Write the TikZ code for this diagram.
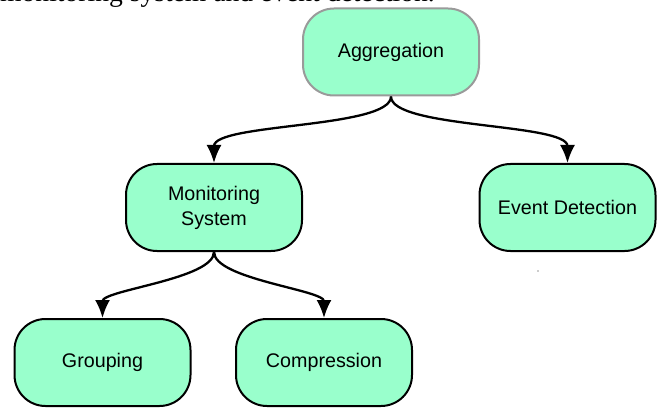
\documentclass[tikz,border=0pt]{standalone}
\usepackage{fontspec}
\setmainfont{Liberation Sans}
\newfontfamily\serifcap{Liberation Serif}
\usetikzlibrary{arrows.meta}
\definecolor{mint}{HTML}{99FFCC}
\definecolor{greyline}{HTML}{9A9A9A}
\begin{document}
\begin{tikzpicture}[x=1pt,y=-1pt,
  pill/.style={draw=black, line width=2pt, fill=mint, rounded corners=31pt,
    minimum width=176pt, minimum height=87pt, inner sep=0pt, align=center,
    font=\fontsize{19.7}{25}\selectfont},
  conn/.style={line width=2.3pt, -{Latex[length=18pt,width=15pt]}}]
\useasboundingbox (0,0) rectangle (664,409);
\begin{scope}
\clip (0,0) rectangle (664,409);
\node[anchor=base west, inner sep=0pt, font=\serifcap\fontsize{27.6}{30}\selectfont] (cap) at (0,2) {monitoring system and event detection.};
\end{scope}
\node[pill, draw=greyline] (agg) at (391,52) {Aggregation};
\node[pill] (mon) at (214,207.5) {Monitoring\\System};
\node[pill] (evt) at (567.5,207.5) {Event Detection};
\node[pill] (grp) at (102.5,362.5) {Grouping};
\node[pill] (cmp) at (324,362.5) {Compression};
\draw[conn] (agg.south) .. controls +(0,32) and +(0,-40) .. (mon.north);
\draw[conn] (agg.south) .. controls +(0,32) and +(0,-40) .. (evt.north);
\draw[conn] (mon.south) .. controls +(0,27) and +(0,-28) .. (grp.north);
\draw[conn] (mon.south) .. controls +(0,27) and +(0,-28) .. (cmp.north);
\fill[greyline] (538,271) circle (0.9pt) coordinate (dot);
\end{tikzpicture}
\end{document}
